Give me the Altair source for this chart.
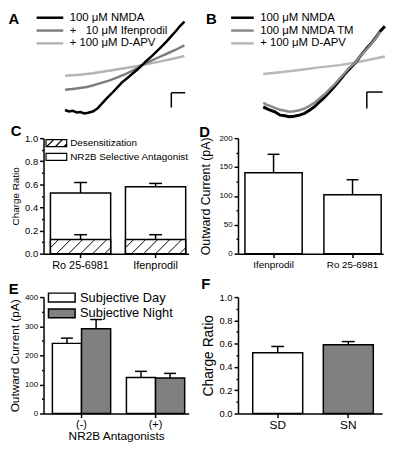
import altair as alt
import pandas as pd

FONT = "Liberation Sans"
NB = "\u00a0"

# ---------------- Panel A : I-V ramps (mV, pA) ----------------
A_SERIES = [NB * 3 + "100 μM NMDA", "+" + NB * 3 + "10 μM Ifenprodil", "+ 100 μM D-APV"]
A_COLORS = ["#000000", "#7d7d7d", "#b4b4b4"]
A_NMDA_MV = [-100, -95, -90, -85, -80, -75, -70, -64, -58, -51, -45, -38, -32, -26, -19, -13, -6, 0, 6, 13, 19, 26, 32, 38, 44, 49, 55]
A_NMDA_PA = [-455, -470, -462, -480, -475, -490, -482, -470, -440, -380, -330, -275, -225, -175, -130, -90, -45, 0, 45, 93, 140, 193, 240, 293, 345, 393, 440]
A_IFEN_MV = [-100, -90, -81, -72, -64, -55, -43, -32, -21, -10, 0, 10, 21, 32, 43, 55]
A_IFEN_PA = [-250, -242, -232, -222, -207, -185, -157, -125, -90, -45, 0, 38, 77, 115, 153, 200]
A_APV_MV = [-100, -81, -64, -43, -21, 0, 21, 43, 55]
A_APV_PA = [-107, -97, -83, -57, -30, 0, 33, 70, 92]
A_BAR_MV = [38, 56]
A_BAR_PA = [-280, -430]

# ---------------- Panel B ----------------
B_SERIES = [NB * 4 + "100 μM NMDA", NB * 4 + "100 μM NMDA TM", "+ 100 μM D-APV"]
B_COLORS = ["#000000", "#8a8a8a", "#b8b8b8"]
B_NMDA_MV = [-120, -115, -111, -105, -98, -92, -86, -80, -73, -66, -60, -53, -47, -40, -34, -27, -21, -15, -9, 0, 8, 15, 21, 27, 32, 38]
B_NMDA_PA = [-450, -470, -484, -500, -534, -540, -550, -545, -534, -515, -484, -445, -400, -350, -300, -240, -184, -125, -75, 0, 85, 150, 200, 260, 316, 366]
B_TM_MV = [-120, -115, -111, -105, -98, -92, -86, -80, -73, -66, -60, -53, -47, -40, -34, -27, -21, -15, -9, 0, 8, 15, 21, 27, 32]
B_TM_PA = [-410, -430, -440, -460, -480, -490, -500, -495, -484, -465, -440, -405, -365, -320, -272, -220, -167, -115, -60, 0, 85, 140, 195, 255, 310]
B_APV_MV = [-120, -98, -73, -47, -21, 0, 21, 38]
B_APV_PA = [-117, -100, -77, -50, -27, 0, 33, 60]
B_BAR_MV = [14.5, 35]
B_BAR_PA = [-300, -467]

# ---------------- Panel C ----------------
C_DRUGS = ["Ro 25-6981", "Ifenprodil"]
C_TOTAL = [0.525, 0.58]
C_TOTAL_HI = [0.616, 0.608]
C_DESENS = [0.123, 0.123]
C_DESENS_HI = [0.164, 0.164]
C_LEGEND = ["Desensitization", "NR2B Selective Antagonist"]

# ---------------- Panel D ----------------
D_DRUGS = ["Ifenprodil", "Ro 25-6981"]
D_MEAN = [140, 102]
D_HI = [172, 128]

# ---------------- Panel E ----------------
E_GROUPS = ["(-)", "(+)"]
E_CONDS = ["Subjective Day", "Subjective Night"]
E_DAY = [241, 124]
E_DAY_HI = [259, 145]
E_NIGHT = [291, 122]
E_NIGHT_HI = [323, 138]

# ---------------- Panel F ----------------
F_LABELS = ["SD", "SN"]
F_MEAN = [0.522, 0.59]
F_HI = [0.576, 0.618]

GRAY = "#808080"
RECT_PATH = "M-1,-1H5V1H-1Z"
LEG_HATCH = "M-1,-1H5V1H-1Z M-0.75,1L1.25,-1 M1.75,1L3.75,-1 M4.25,1L5,0.25"
BAR_HATCH = ("M-1,0.04L-0.72,-0.24M-0.8,0.24L-0.32,-0.24M-0.4,0.24L0.08,-0.24"
             "M0,0.24L0.48,-0.24M0.4,0.24L0.88,-0.24M0.8,0.24L1,0.04")


def trace_df(names, mvs, pas):
    rows = []
    for name, mv, pa in zip(names, mvs, pas):
        for x, y in zip(mv, pa):
            rows.append({"s": name, "mV": x, "pA": y})
    return pd.DataFrame(rows)


def iv_panel(letter, df, series, colors, order, xdom, ydom, bar_mv, bar_pa,
             w, h, lx, ly, sym_path, lab_off, t_pad):
    xs = alt.Scale(domain=xdom, nice=False, zero=False)
    ys = alt.Scale(domain=ydom, nice=False, zero=False)
    legend = alt.Legend(orient="none", legendX=lx, legendY=ly, title=letter,
                        titleOrient="left", titleAnchor="start", titleFontSize=15,
                        titleFontWeight="bold", titleFont=FONT, titleColor="black",
                        titlePadding=t_pad, offset=0, padding=0,
                        symbolType=sym_path, symbolSize=81, symbolStrokeWidth=2.5,
                        labelOffset=lab_off, labelFontSize=11.5, labelFont=FONT,
                        labelColor="black", rowPadding=1)
    layers = []
    for name, sw in order:
        layers.append(
            alt.Chart(df).transform_filter(alt.datum.s == name)
            .mark_line(strokeWidth=sw, opacity=1)
            .encode(x=alt.X("mV:Q", scale=xs, axis=None),
                    y=alt.Y("pA:Q", scale=ys, axis=None),
                    color=alt.Color("s:N", scale=alt.Scale(domain=series, range=colors),
                                    legend=legend))
        )
    bdf = pd.DataFrame({"x0": [bar_mv[0]], "x1": [bar_mv[1]],
                        "y0": [bar_pa[0]], "y1": [bar_pa[1]]})
    hbar = alt.Chart(bdf).mark_rule(color="black", strokeWidth=1.5).encode(
        x=alt.X("x0:Q", scale=xs, axis=None), x2="x1:Q",
        y=alt.Y("y0:Q", scale=ys, axis=None))
    vbar = alt.Chart(bdf).mark_rule(color="black", strokeWidth=1.5).encode(
        x=alt.X("x0:Q", scale=xs, axis=None),
        y=alt.Y("y0:Q", scale=ys, axis=None), y2="y1:Q")
    return alt.layer(*layers, hbar, vbar).properties(width=w, height=h)


def y_axis(title, values, minor, fmt, lsize, tsize, tpad):
    return alt.Axis(title=title, values=values,
                    labelExpr=f"({minor}) ? '' : format(datum.value, '{fmt}')",
                    tickSize={"condition": {"test": minor, "value": 2}, "value": 4},
                    labelFontSize=lsize, titleFontSize=tsize, titlePadding=tpad,
                    labelOverlap=False, labelPadding=2)


def x_axis(lsize, title=None, tsize=12):
    if title is None:
        return alt.Axis(title=None, labelAngle=0, labelFontSize=lsize, tickSize=4,
                        labelPadding=2)
    return alt.Axis(title=title, labelAngle=0, labelFontSize=lsize, tickSize=4,
                    labelPadding=1, titleFontSize=tsize, titlePadding=1)


def letter(t, off):
    return alt.TitleParams(t, anchor="start", offset=off, fontSize=15,
                           fontWeight="bold", font=FONT, color="black")


# ---------- A ----------
a_df = trace_df(A_SERIES, [A_NMDA_MV, A_IFEN_MV, A_APV_MV], [A_NMDA_PA, A_IFEN_PA, A_APV_PA])
panel_a = iv_panel("A", a_df, A_SERIES, A_COLORS,
                   [(A_SERIES[2], 2.5), (A_SERIES[1], 2.5), (A_SERIES[0], 2.5)],
                   [-127.9, 60.5], [-300, 460], A_BAR_MV, A_BAR_PA,
                   147, 76, -35.5, -8, "M-1,0H5", 23, 16)

# ---------- B ----------
b_df = trace_df(B_SERIES, [B_NMDA_MV, B_TM_MV, B_APV_MV], [B_NMDA_PA, B_TM_PA, B_APV_PA])
panel_b = iv_panel("B", b_df, B_SERIES, B_COLORS,
                   [(B_SERIES[2], 2.5), (B_SERIES[0], 3), (B_SERIES[1], 2.5)],
                   [-152.8, 34.4], [-327, 433], B_BAR_MV, B_BAR_PA,
                   146, 76, -32.5, -8, "M-1,0H4.1", 19, 13)

# ---------- C ----------
c_df = pd.DataFrame({"drug": C_DRUGS, "total": C_TOTAL, "total_hi": C_TOTAL_HI,
                     "des": C_DESENS, "des_hi": C_DESENS_HI})
cx = alt.X("drug:N", sort=C_DRUGS,
           scale=alt.Scale(paddingInner=0.1974, paddingOuter=0.0658, align=0.7),
           axis=x_axis(11))
c_ax = y_axis("Charge Ratio", [i / 10 for i in range(11)],
              "round(datum.value*10) % 2 == 1", ".1f", 9.5, 10, 4)
c_sc = alt.Scale(domain=[0, 1], nice=False)


def cy(f):
    return alt.Y(f + ":Q", scale=c_sc, axis=c_ax)


cbase = alt.Chart(c_df)
c_layers = [
    cbase.mark_bar(fill="white", stroke="black", strokeWidth=1.5, opacity=1).encode(x=cx, y=cy("total")),
    cbase.mark_rule(color="black", strokeWidth=1.5).encode(x=cx, y=cy("total"), y2="total_hi:Q"),
    cbase.mark_tick(color="black", thickness=1.5, size=13, opacity=1).encode(x=cx, y=cy("total_hi")),
    cbase.mark_bar(fill="white", stroke="black", strokeWidth=1.5, opacity=1).encode(x=cx, y=cy("des")),
    cbase.transform_calculate(mid="datum.des / 2").mark_point(
        shape=BAR_HATCH, size=3721, filled=False, stroke="black", strokeWidth=1, opacity=1
    ).encode(x=cx, y=cy("mid")),
    cbase.mark_rule(color="black", strokeWidth=1.5).encode(x=cx, y=cy("des"), y2="des_hi:Q"),
    cbase.mark_tick(color="black", thickness=1.5, size=13, opacity=1).encode(x=cx, y=cy("des_hi")),
    alt.Chart(pd.DataFrame({"comp": C_LEGEND})).transform_filter("false").mark_point(
        filled=False, color="black", strokeWidth=1.2, opacity=1, size=49
    ).encode(shape=alt.Shape("comp:N", scale=alt.Scale(domain=C_LEGEND, range=[LEG_HATCH, RECT_PATH]),
                             legend=alt.Legend(orient="none", legendX=1, legendY=0, title=None,
                                               offset=0, padding=0,
                                               symbolSize=49, symbolStrokeColor="black",
                                               symbolStrokeWidth=1.2, symbolOpacity=1,
                                               labelFontSize=10, labelOffset=16,
                                               labelFont=FONT, labelColor="black", rowPadding=2))),
]
panel_c = alt.layer(*c_layers).properties(width=147, height=117, title=letter("C", -6))

# ---------- D ----------
d_df = pd.DataFrame({"drug": D_DRUGS, "mean": D_MEAN, "hi": D_HI})
dx = alt.X("drug:N", sort=D_DRUGS,
           scale=alt.Scale(paddingInner=0.275, paddingOuter=0.05625, align=0.78),
           axis=x_axis(10))
d_ax = y_axis("Outward Current (pA)", list(range(0, 201, 25)), "datum.value % 50 != 0",
              "d", 8, 12.5, 7)
d_sc = alt.Scale(domain=[0, 200], nice=False)
dbase = alt.Chart(d_df)
panel_d = alt.layer(
    dbase.mark_bar(fill="white", stroke="black", strokeWidth=1.5, opacity=1).encode(
        x=dx, y=alt.Y("mean:Q", scale=d_sc, axis=d_ax)),
    dbase.mark_rule(color="black", strokeWidth=1.5).encode(
        x=dx, y=alt.Y("mean:Q", scale=d_sc, axis=d_ax), y2="hi:Q"),
    dbase.mark_tick(color="black", thickness=1.5, size=12, opacity=1).encode(
        x=dx, y=alt.Y("hi:Q", scale=d_sc, axis=d_ax)),
).properties(width=147, height=117, title=letter("D", -6))

# ---------- E ----------
e_df = pd.DataFrame({
    "grp": E_GROUPS + E_GROUPS,
    "cond": [E_CONDS[0]] * 2 + [E_CONDS[1]] * 2,
    "mean": E_DAY + E_NIGHT,
    "hi": E_DAY_HI + E_NIGHT_HI,
})
ex = alt.X("grp:N", sort=E_GROUPS,
           scale=alt.Scale(paddingInner=0.213, paddingOuter=0.0867, align=0.69),
           axis=x_axis(11, "NR2B Antagonists", 12))
exo = alt.XOffset("cond:N", sort=E_CONDS, scale=alt.Scale(paddingInner=0, paddingOuter=0))
e_ax = y_axis("Outward Current (pA)", list(range(0, 401, 50)), "datum.value % 100 != 0",
              "d", 8, 12, 3)
e_sc = alt.Scale(domain=[0, 400], nice=False)
ebase = alt.Chart(e_df)
panel_e = alt.layer(
    ebase.mark_bar(stroke="black", strokeWidth=1.5, opacity=1).encode(
        x=ex, xOffset=exo, y=alt.Y("mean:Q", scale=e_sc, axis=e_ax),
        fill=alt.Fill("cond:N", scale=alt.Scale(domain=E_CONDS, range=["white", GRAY]),
                      legend=alt.Legend(orient="none", legendX=3, legendY=-6, title=None,
                                        offset=0, padding=0,
                                        symbolType=RECT_PATH, symbolSize=81,
                                        symbolStrokeColor="black", symbolStrokeWidth=1.5,
                                        symbolOpacity=1, labelFontSize=13, labelOffset=21,
                                        labelFont=FONT, labelColor="black", rowPadding=1))),
    ebase.mark_rule(color="black", strokeWidth=1.5).encode(
        x=ex, xOffset=exo, y=alt.Y("mean:Q", scale=e_sc, axis=e_ax), y2="hi:Q"),
    ebase.mark_tick(color="black", thickness=1.5, size=12, opacity=1).encode(
        x=ex, xOffset=exo, y=alt.Y("hi:Q", scale=e_sc, axis=e_ax)),
).properties(width=147, height=118, title=letter("E", -6))

# ---------- F ----------
f_df = pd.DataFrame({"cond": F_LABELS, "mean": F_MEAN, "hi": F_HI})
fx = alt.X("cond:N", sort=F_LABELS,
           scale=alt.Scale(paddingInner=0.292, paddingOuter=0.1667, align=0.625),
           axis=x_axis(12))
f_ax = y_axis("Charge Ratio", [i / 10 for i in range(11)],
              "round(datum.value*10) % 2 == 1", ".1f", 9.5, 14, 4)
f_sc = alt.Scale(domain=[0, 1], nice=False)
fbase = alt.Chart(f_df)
panel_f = alt.layer(
    fbase.mark_bar(stroke="black", strokeWidth=1.5, opacity=1).encode(
        x=fx, y=alt.Y("mean:Q", scale=f_sc, axis=f_ax),
        fill=alt.Fill("cond:N", scale=alt.Scale(domain=F_LABELS, range=["white", GRAY]),
                      legend=None)),
    fbase.mark_rule(color="black", strokeWidth=1.5).encode(
        x=fx, y=alt.Y("mean:Q", scale=f_sc, axis=f_ax), y2="hi:Q"),
    fbase.mark_tick(color="black", thickness=1.5, size=13, opacity=1).encode(
        x=fx, y=alt.Y("hi:Q", scale=f_sc, axis=f_ax)),
).properties(width=146, height=118, title=letter("F", 0))

chart = alt.concat(
    panel_a, panel_b, panel_c, panel_d, panel_e, panel_f,
    columns=2, spacing={"row": 44, "column": 50}, bounds="flush", align="none"
).resolve_scale(
    color="independent", fill="independent", shape="independent",
    x="independent", y="independent"
).resolve_legend(color="independent", fill="independent", shape="independent"
).properties(padding=0).configure_axis(
    grid=False, domainColor="black", domainWidth=1.5, tickColor="black", tickWidth=1.5,
    labelColor="black", titleColor="black", labelFont=FONT, titleFont=FONT,
    titleFontWeight="normal"
).configure_legend(labelFont=FONT, titleFont=FONT).configure_view(stroke="transparent")

chart.save("out.html", embed_options={"renderer": "svg", "actions": False})
